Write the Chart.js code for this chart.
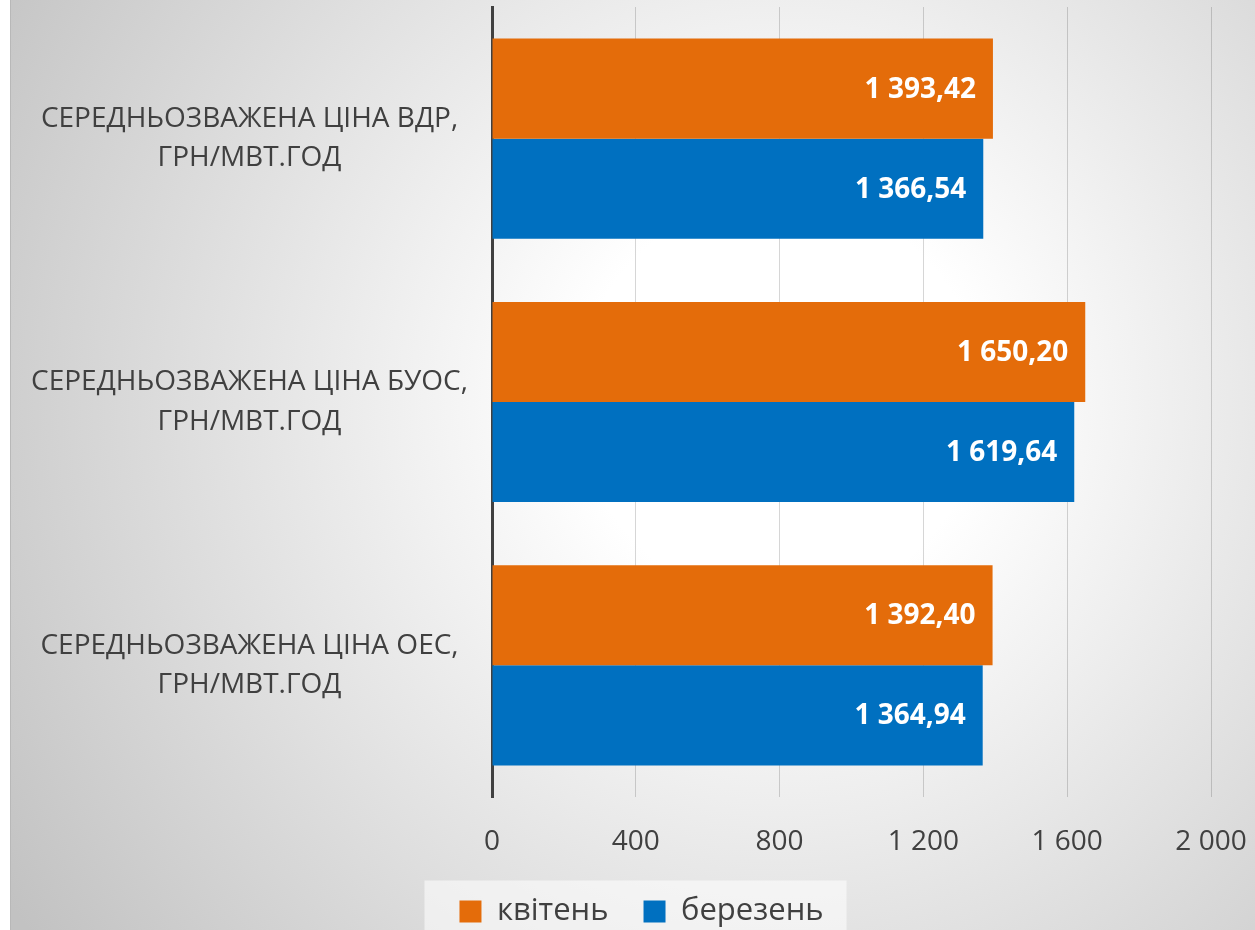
<!DOCTYPE html>
<html>
<head>
<meta charset="utf-8">
<script src="https://cdn.jsdelivr.net/npm/chart.js@4.4.0/dist/chart.umd.min.js"></script>
<style>
  html, body { margin: 0; padding: 0; background: #fff; overflow: hidden; }
  #wrap { width: 1255px; height: 930px; overflow: hidden; }
</style>
</head>
<body>
<div id="wrap"><canvas id="priceChart" width="1255" height="937"></canvas></div>
<script>
var categories = [
  ['СЕРЕДНЬОЗВАЖЕНА ЦІНА ВДР,', 'ГРН/МВТ.ГОД'],
  ['СЕРЕДНЬОЗВАЖЕНА ЦІНА БУОС,', 'ГРН/МВТ.ГОД'],
  ['СЕРЕДНЬОЗВАЖЕНА ЦІНА ОЕС,', 'ГРН/МВТ.ГОД']
];
var aprilValues = [1393.42, 1650.20, 1392.40];
var marchValues = [1366.54, 1619.64, 1364.94];
var seriesNames = ['квітень', 'березень'];
var axisMin = 0;
var axisMax = 2000;
var axisStep = 400;

var fontFamily = "'Open Sans', 'Noto Sans', sans-serif";

function formatNum(v, decimals) {
  var parts = v.toFixed(decimals).split('.');
  parts[0] = parts[0].replace(/\B(?=(\d{3})+(?!\d))/g, ' ');
  return parts.join(',');
}

// background gradient + legend panel
var backgroundPlugin = {
  id: 'background',
  afterLayout: function(chart) {
    // legend sits a bit right of the canvas centre
    chart.legend.left += 31;
    chart.legend.right += 31;
  },
  beforeDraw: function(chart) {
    var ctx = chart.ctx;
    var w = chart.width, h = chart.height;
    ctx.save();
    ctx.fillStyle = '#ffffff';
    ctx.fillRect(0, 0, w, h);
    var g = ctx.createRadialGradient(780, 400, 0, 780, 400, 920);
    g.addColorStop(0, '#ffffff');
    g.addColorStop(0.22, '#ffffff');
    g.addColorStop(1, '#c2c2c2');
    ctx.fillStyle = g;
    ctx.fillRect(10, 0, w - 10, h);
    ctx.fillStyle = '#b8b8b8';
    ctx.fillRect(10, 0, 1, h);

    var boxes = chart.legend.legendHitBoxes;
    if (boxes && boxes.length) {
      var minX = boxes[0].left, maxX = boxes[0].left + boxes[0].width;
      boxes.forEach(function(b) {
        minX = Math.min(minX, b.left);
        maxX = Math.max(maxX, b.left + b.width);
      });
      var midY = boxes[0].top + boxes[0].height / 2;
      ctx.fillStyle = 'rgba(255,255,255,0.55)';
      ctx.fillRect(minX - 35, midY - 31, (maxX - minX) + 58, 80);
    }
    ctx.restore();
  }
};

var valueLabelPlugin = {
  id: 'valueLabels',
  afterDatasetsDraw: function(chart) {
    var ctx = chart.ctx;
    ctx.save();
    ctx.font = 'bold 28px ' + fontFamily;
    ctx.fillStyle = '#ffffff';
    ctx.textAlign = 'right';
    ctx.textBaseline = 'middle';
    chart.data.datasets.forEach(function(ds, i) {
      var meta = chart.getDatasetMeta(i);
      meta.data.forEach(function(bar, j) {
        ctx.fillText(formatNum(ds.data[j], 2), bar.x - 17, bar.y + 1);
      });
    });
    ctx.restore();
  }
};

function noOverhang(scale) {
  scale.paddingTop = 0;
  scale.paddingBottom = 0;
  scale.paddingLeft = 0;
  scale.paddingRight = 0;
}

var ctx = document.getElementById('priceChart').getContext('2d');

var data = {
  labels: categories,
  datasets: [
    {
      label: seriesNames[0],
      data: aprilValues,
      backgroundColor: '#E46C0A',
      borderWidth: 0,
      categoryPercentage: 0.76,
      barPercentage: 1.0
    },
    {
      label: seriesNames[1],
      data: marchValues,
      backgroundColor: '#0070C0',
      borderWidth: 0,
      categoryPercentage: 0.76,
      barPercentage: 1.0
    }
  ]
};

var options = {
  indexAxis: 'y',
  responsive: false,
  animation: false,
  layout: {
    padding: { top: 7, right: 44, bottom: 0, left: 10 }
  },
  scales: {
    x: {
      min: axisMin,
      max: axisMax,
      afterFit: function(scale) { scale.height = 64; noOverhang(scale); },
      ticks: {
        stepSize: axisStep,
        padding: 28,
        color: '#404040',
        font: { family: fontFamily, size: 28 },
        callback: function(v) { return formatNum(v, 0); }
      },
      grid: {
        color: 'rgba(0,0,0,0.16)',
        lineWidth: 1,
        drawTicks: false
      },
      border: { display: false }
    },
    y: {
      z: 1,
      afterFit: function(scale) { scale.width = 482; noOverhang(scale); },
      ticks: {
        crossAlign: 'center',
        padding: 24,
        color: '#404040',
        font: { family: fontFamily, size: 28, lineHeight: 1.4 }
      },
      grid: { display: false, drawTicks: false },
      border: { display: true, color: '#404040', width: 3 }
    }
  },
  plugins: {
    tooltip: { enabled: false },
    legend: {
      display: true,
      position: 'bottom',
      labels: {
        boxWidth: 22,
        boxHeight: 22,
        padding: 35,
        color: '#404040',
        font: { family: fontFamily, size: 31 }
      }
    }
  }
};

var myChart = new Chart(ctx, {
  type: 'bar',
  data: data,
  options: options,
  plugins: [backgroundPlugin, valueLabelPlugin]
});
</script>
</body>
</html>
